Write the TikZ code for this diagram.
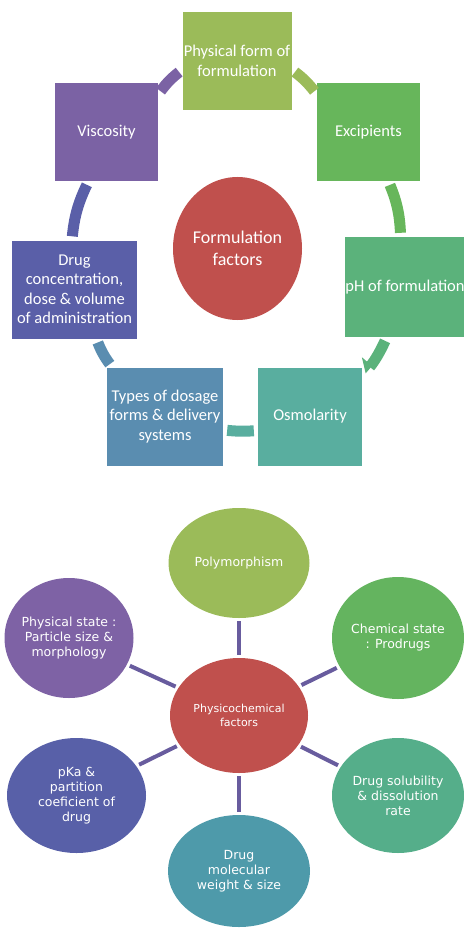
\documentclass[tikz,border=0pt]{standalone}
\usepackage{fontspec}
\setmainfont{Carlito}
\newfontfamily\widesans{DejaVu Sans}
\usepackage{xcolor}
\usepackage{tikz}
\usetikzlibrary{
  shapes.geometric,
  arrows.meta
}
\definecolor{oliveA}{HTML}{9BBB59}
\definecolor{greenB}{HTML}{67B65B}
\definecolor{greenC}{HTML}{5BB27B}
\definecolor{tealD}{HTML}{59AE9F}
\definecolor{steelE}{HTML}{5A8DB0}
\definecolor{blueF}{HTML}{5A5FA8}
\definecolor{purpleG}{HTML}{7B62A4}
\definecolor{hubred}{HTML}{C0504D}
\definecolor{chemgreen}{HTML}{64B45F}
\definecolor{solteal}{HTML}{55AE8A}
\definecolor{molteal}{HTML}{4E9AAA}
\definecolor{pkablue}{HTML}{5860A8}
\definecolor{statepurple}{HTML}{7E62A5}
\definecolor{spokeline}{HTML}{685C9E}
\tikzset{
  factorbox/.style={
    rectangle, draw=none, text=white,
    minimum height=98pt, inner xsep=0pt, inner ysep=1pt,
    align=center, font=\fontsize{16.5}{19.5}\selectfont
  },
  hubellipse/.style={
    ellipse, fill=hubred, text=white,
    inner sep=-5pt, align=center
  },
  ringarc/.style={
    line width=11pt, shorten <=4pt, shorten >=4pt
  },
  factorcircle/.style={
    ellipse, text=white, inner sep=-14pt,
    align=center, font=\widesans\fontsize{12.5}{15}\selectfont
  },
  spoke/.style={
    line width=4pt, draw=spokeline, shorten <=3pt, shorten >=3pt
  }
}
\begin{document}
\begin{tikzpicture}[x=1pt, y=1pt]
    \useasboundingbox (0,0) rectangle (463,-928);
    \node[factorbox, fill=oliveA, minimum width=109pt] (physform) at (237,-61) {Physical form of\\formulation};
    \node[factorbox, fill=greenB, minimum width=103pt] (excip) at (368.5,-132) {Excipients};
    \node[factorbox, fill=greenC, minimum width=121pt, minimum height=100pt] (phform) at (405,-287) {pH of formulation};
    \node[factorbox, fill=tealD, minimum width=104pt] (osmo) at (310,-416.5) {Osmolarity};
    \node[factorbox, fill=steelE, minimum width=116pt] (dosage) at (165,-416.5) {Types of dosage\\forms \& delivery\\systems};
    \node[factorbox, fill=blueF, minimum width=125pt] (drugconc) at (74.5,-289.5) {Drug\\concentration,\\dose \& volume\\of administration};
    \node[factorbox, fill=purpleG, minimum width=103pt] (visc) at (106.5,-132) {Viscosity};
    \node[hubellipse, minimum width=129pt, minimum height=143pt, font=\fontsize{18}{22}\selectfont] (formfac) at (237.5,-248.5) {Formulation\\factors};
    \draw[ringarc, draw=purpleG] (visc.36) to[bend left=8] (physform.189);
    \draw[ringarc, draw=oliveA] (physform.-9) to[bend left=8] (excip.144);
    \draw[ringarc, draw=greenB] (excip.-68) to[bend left=10] (phform.95);
    \draw[ringarc, draw=greenC, -{Triangle[right, length=9pt, width=24pt]}] (phform.250) to[bend left=8] (osmo.38);
    \draw[ringarc, draw=tealD] (osmo.195) to[bend left=5] (dosage.-13);
    \draw[ringarc, draw=steelE] (dosage.137) to[bend left=8] (drugconc.-66);
    \draw[ringarc, draw=blueF] (drugconc.93) to[bend left=10] (visc.250);
    \node[hubellipse, minimum width=138pt, minimum height=115pt, font=\widesans\fontsize{11}{13.5}\selectfont] (physchem) at (239,-715.5) {Physicochemical\\factors};
    \node[factorcircle, fill=oliveA, minimum width=141pt, minimum height=110pt] (polymorph) at (239,-563) {Polymorphism};
    \node[factorcircle, fill=chemgreen, minimum width=132pt, minimum height=122pt] (chemstate) at (398,-638) {Chemical state\\: Prodrugs};
    \node[factorcircle, fill=solteal, minimum width=132pt, minimum height=115pt] (solub) at (398,-795.5) {Drug solubility\\\& dissolution\\rate};
    \node[factorcircle, fill=molteal, minimum width=142pt, minimum height=112pt] (molwt) at (239,-871) {Drug\\molecular\\weight \& size};
    \node[factorcircle, fill=pkablue, minimum width=139pt, minimum height=115pt] (pka) at (76.5,-795.5) {pKa \&\\partition\\coeficient of\\drug};
    \node[factorcircle, fill=statepurple, minimum width=129pt, minimum height=120pt] (physstate) at (69,-638) {Physical state :\\Particle size \&\\morphology};
    \draw[spoke] (physchem) -- (polymorph);
    \draw[spoke] (physchem) -- (chemstate);
    \draw[spoke] (physchem) -- (solub);
    \draw[spoke] (physchem) -- (molwt);
    \draw[spoke] (physchem) -- (pka);
    \draw[spoke] (physchem) -- (physstate);
  \end{tikzpicture}
\end{document}
